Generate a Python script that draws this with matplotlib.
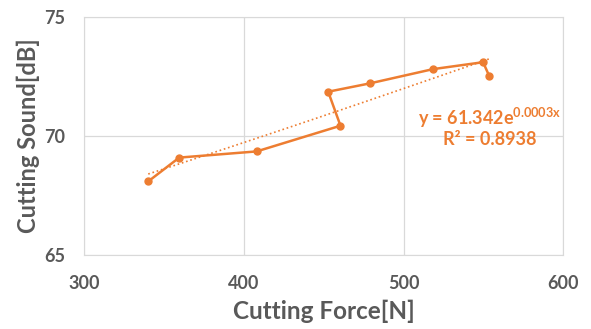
import matplotlib.pyplot as plt
import numpy as np

# 切削力 vs 切削音
force = [340.1, 359.5, 408.0, 460.5, 452.8, 478.9, 518.5, 549.8, 553.6]
sound = [68.08, 69.08, 69.34, 70.42, 71.85, 72.20, 72.80, 73.09, 72.52]
x_ticks = [300, 400, 500, 600]
y_ticks = [65, 70, 75]
eq_text = "y = 61.342e$^{\\mathbf{0.0003x}}$"
r2_text = "R² = 0.8938"

orange = '#ED7D31'
gray = '#595959'

plt.rcParams['font.family'] = ['Lato', 'DejaVu Sans']
plt.rcParams['mathtext.fontset'] = 'custom'
plt.rcParams['mathtext.bf'] = 'Lato:bold'
plt.rcParams['mathtext.rm'] = 'Lato'

fig = plt.figure(figsize=(5.91, 3.29), dpi=100)
ax = fig.add_axes([0.1425, 0.226, 0.8105, 0.723])

ax.plot(force, sound, color=orange, lw=1.8, marker='o', ms=5, zorder=3)

# 指数趋势线
b, ln_a = np.polyfit(force, np.log(sound), 1)
xs = np.linspace(min(force), max(force), 100)
ax.plot(xs, np.exp(ln_a) * np.exp(b * xs), color=orange, lw=1.2, ls=':', zorder=2)

ax.text(554, 70.73, eq_text, color=orange, fontsize=13, fontweight='bold',
        ha='center', va='center')
ax.text(554, 69.85, r2_text, color=orange, fontsize=13, fontweight='bold',
        ha='center', va='center')

ax.set_xlim(300, 600)
ax.set_ylim(65, 75)
ax.set_xticks(x_ticks)
ax.set_yticks(y_ticks)
ax.grid(True, color='#d9d9d9', lw=0.9)
ax.set_axisbelow(True)
for s in ax.spines.values():
    s.set_color('#d9d9d9')
ax.tick_params(length=0, labelsize=13, labelcolor=gray)
ax.tick_params(axis='x', pad=15)
ax.tick_params(axis='y', pad=14)
for lab in ax.get_xticklabels() + ax.get_yticklabels():
    lab.set_fontweight('bold')

ax.set_xlabel('Cutting Force[N]', fontsize=17.5, fontweight='bold', color=gray, labelpad=5)
ax.set_ylabel('Cutting Sound[dB]', fontsize=17, fontweight='bold', color=gray, labelpad=3)

fig.savefig('out.png', dpi=100)
